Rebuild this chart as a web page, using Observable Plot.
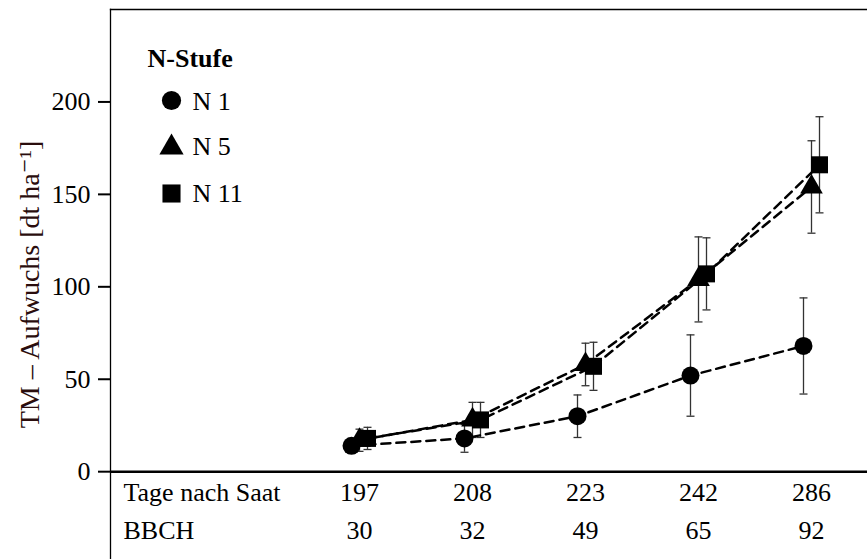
<!DOCTYPE html>
<html><head><meta charset="utf-8">
<script src="https://cdn.jsdelivr.net/npm/d3@7"></script>
<script src="https://cdn.jsdelivr.net/npm/@observablehq/plot@0.6"></script>
<style>
body{margin:0;background:#fff}
#chart svg{display:block}
#chart svg, #chart svg text{font-family:"Liberation Serif","Times New Roman","DejaVu Serif",serif !important}
[aria-label^="y-axis"] line, [aria-label="y-axis tick"] path {stroke-width:2;stroke:#000}
</style></head><body><div id="chart"></div>
<script>
// ---- data ----
const days = [197, 208, 223, 242, 286];
const bbch = [30, 32, 49, 65, 92];
const seriesNames = ["N 1", "N 5", "N 11"];
const n1 = [14, 18, 30, 52, 68];
const n1Err = [4, 7.5, 11.5, 22, 26];
const n5 = [17, 28, 58, 104, 154];
const n5Err = [6, 9.5, 11.5, 23, 25];
const n11 = [18, 28, 57, 107, 166];
const n11Err = [6, 9.5, 13, 19.5, 26];
const yTicks = [0, 50, 100, 150, 200];
const rowLabels = ["Tage nach Saat", "BBCH"];
const legendTitle = "N-Stufe";
const yLabel = "TM \u2013 Aufwuchs [dt ha\u207B\u00B9]";

// ---- styling / layout ----
const symbols = ["circle", "triangle", "square"];
const radii = [9, 8.4, 9.6];
const dodge = [-8, 0, 8];
const rowY = [-11.5, -32];
const legendDy = [91, 138, 184];
const legendTextDy = [92, 137, 184];
const FS = 26;

const values = [n1, n5, n11];
const errs = [n1Err, n5Err, n11Err];
const rows = values.map((vals, i) => days.map((d, j) => ({
  day: d, v: vals[j], lo: vals[j] - errs[i][j], hi: vals[j] + errs[i][j]
})));

const capSymbol = {draw(ctx) { ctx.moveTo(-4, 0); ctx.lineTo(4, 0); }};
const errColor = "#333";

const marks = [];
rows.forEach((r, i) => {
  marks.push(Plot.ruleX(r, {x: "day", y1: "lo", y2: "hi", dx: dodge[i], stroke: errColor, strokeWidth: 1.3}));
  marks.push(Plot.dot(r, {x: "day", y: "lo", dx: dodge[i], symbol: capSymbol, fill: "none", stroke: errColor, strokeWidth: 1.3}));
  marks.push(Plot.dot(r, {x: "day", y: "hi", dx: dodge[i], symbol: capSymbol, fill: "none", stroke: errColor, strokeWidth: 1.3}));
});
rows.forEach((r, i) => {
  marks.push(Plot.line(r, {x: "day", y: "v", dx: dodge[i], stroke: "#000", strokeWidth: 2.5, strokeDasharray: "9,6"}));
});
rows.forEach((r, i) => {
  marks.push(Plot.dot(r, {x: "day", y: "v", dx: dodge[i], symbol: symbols[i], r: radii[i], fill: "#000", stroke: "none"}));
});
// baseline, frame
marks.push(Plot.ruleY([0], {stroke: "#000", strokeWidth: 2.5}));
marks.push(Plot.frame({anchor: "top", stroke: "#000", strokeWidth: 1.3}));
marks.push(Plot.frame({anchor: "left", stroke: "#000", strokeWidth: 1.3}));
// table rows
marks.push(Plot.text(rowLabels, {frameAnchor: "left", y: (d, i) => rowY[i], dx: 13, textAnchor: "start", lineAnchor: "middle", fontSize: FS}));
marks.push(Plot.text(days, {x: d => d, y: () => rowY[0], text: d => String(d), fontSize: FS}));
marks.push(Plot.text(days.map((d, j) => ({day: d, b: bbch[j]})), {x: "day", y: () => rowY[1], text: d => String(d.b), fontSize: FS}));
// legend
marks.push(Plot.text([legendTitle], {frameAnchor: "top-left", dx: 37, dy: 49, textAnchor: "start", lineAnchor: "middle", fontSize: FS, fontWeight: "bold"}));
seriesNames.forEach((name, i) => {
  marks.push(Plot.dot([name], {frameAnchor: "top-left", dx: 61, dy: legendDy[i], symbol: symbols[i], r: radii[i] + 0.6, fill: "#000", stroke: "none"}));
  marks.push(Plot.text([name], {frameAnchor: "top-left", dx: 82, dy: legendTextDy[i], textAnchor: "start", lineAnchor: "middle", fontSize: FS}));
});
// y label
marks.push(Plot.text([yLabel], {frameAnchor: "left", dx: -80, rotate: -90, textAnchor: "middle", lineAnchor: "middle", fontSize: 28, fill: "#2a0d0d"}));

const chart = Plot.plot({
  width: 867,
  height: 559,
  marginTop: 9,
  marginBottom: 0,
  marginLeft: 110,
  marginRight: 0,
  style: {fontFamily: "'Liberation Serif', serif", fontSize: FS + "px", background: "#fff", color: "#000"},
  x: {type: "point", domain: days, range: [358, 811], padding: 0, axis: null},
  y: {domain: [-47.5, 250], ticks: yTicks, tickSize: 12, tickPadding: 8, label: null, tickFormat: d => String(d)},
  marks
});
document.getElementById("chart").appendChild(chart);
</script></body></html>
